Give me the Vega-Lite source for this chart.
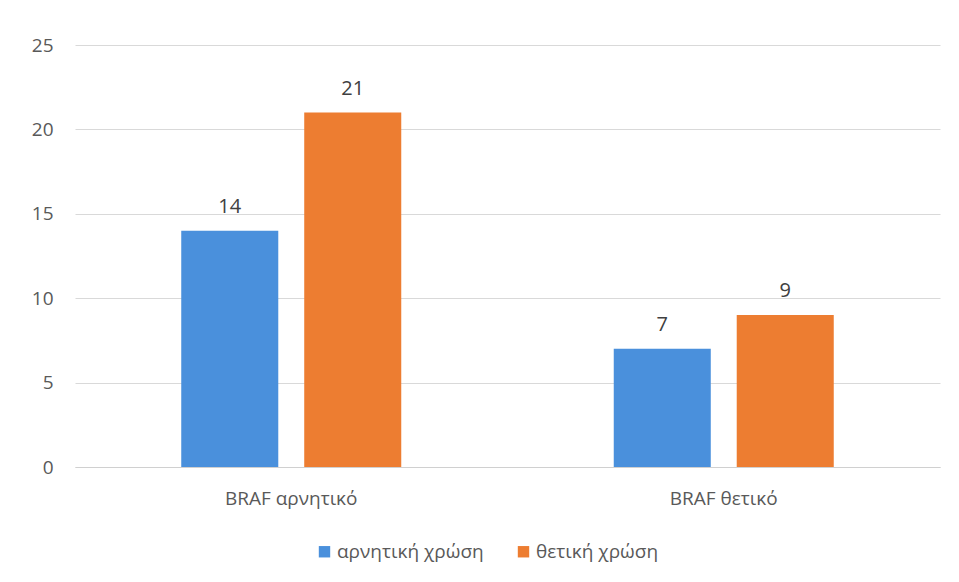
{
  "$schema": "https://vega.github.io/schema/vega-lite/v6.json",
  "autosize": {"type": "none"},
  "width": 865,
  "height": 422,
  "padding": {"left": 75, "top": 45, "right": 19, "bottom": 115},
  "background": "white",
  "config": {
    "view": {"stroke": null},
    "font": "Open Sans"
  },
  "data": {
    "values": [
      {"cat": "BRAF αρνητικό", "series": "αρνητική χρώση", "value": 14},
      {"cat": "BRAF αρνητικό", "series": "θετική χρώση", "value": 21},
      {"cat": "BRAF θετικό", "series": "αρνητική χρώση", "value": 7},
      {"cat": "BRAF θετικό", "series": "θετική χρώση", "value": 9}
    ]
  },
  "encoding": {
    "x": {
      "field": "cat", "type": "nominal", "sort": null,
      "scale": {"paddingInner": 0, "paddingOuter": 0},
      "axis": {"title": null, "labelAngle": 0, "ticks": false, "domainColor": "#d0d0d0", "labelPadding": 22, "grid": false, "labelFontSize": 19, "labelColor": "#595959", "labelFont": "Open Sans"}
    },
    "xOffset": {
      "field": "series", "type": "nominal", "sort": null,
      "scale": {"paddingInner": 0.211, "paddingOuter": 0.864}
    },
    "y": {
      "field": "value", "type": "quantitative",
      "scale": {"domain": [0, 25]},
      "axis": {"title": null, "values": [0, 5, 10, 15, 20, 25], "ticks": false, "domain": false, "gridColor": "#d9d9d9", "labelPadding": 22, "labelFontSize": 19, "labelColor": "#595959", "labelFont": "Open Sans"}
    }
  },
  "layer": [
    {
      "mark": {"type": "bar"},
      "encoding": {
        "color": {
          "field": "series", "type": "nominal", "sort": null,
          "scale": {"range": ["#4a90dc", "#ed7d31"]},
          "legend": {
            "title": null, "orient": "none", "legendX": 240, "legendY": 497, "direction": "horizontal",
            "symbolType": "square", "symbolSize": 130, "labelFontSize": 19,
            "labelColor": "#595959", "labelFont": "Open Sans",
            "columnPadding": 30, "symbolStrokeWidth": 0, "labelOffset": 3
          }
        }
      }
    },
    {
      "mark": {"type": "text", "dy": -18, "baseline": "alphabetic", "fontSize": 20, "color": "#404040"},
      "encoding": {"text": {"field": "value", "type": "quantitative"}}
    }
  ]
}
